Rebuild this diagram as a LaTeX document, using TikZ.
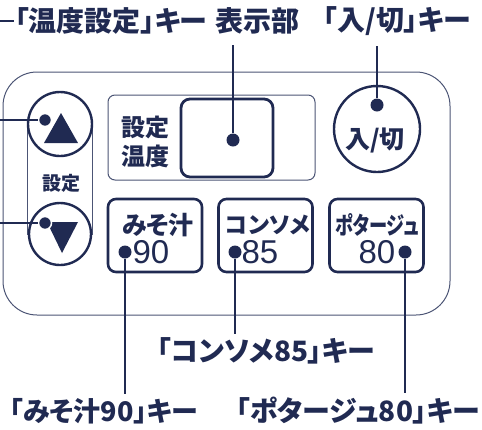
\documentclass[tikz,border=0pt]{standalone}
\usepackage{fontspec}
\usepackage{graphicx}
\newfontfamily\jp{Noto Sans CJK JP}[RawFeature=+palt]
\newfontfamily\num{Liberation Sans}
\usetikzlibrary{calc}
\definecolor{ink}{RGB}{32,42,82}
\def\fs#1{\fontsize{#1}{#1}\selectfont}

\begin{document}
\begin{tikzpicture}[x=1pt,y=-1pt,
	key/.style={draw=ink, line width=2.6pt, rounded corners=8pt, minimum width=94pt, minimum height=73pt},
	lbl/.style={text=ink, font=\jp\bfseries\fs{28}, inner sep=0pt},
	lead/.style={draw=ink, line width=2.8pt},
	pin/.style={circle, fill=ink, minimum size=13pt, inner sep=0pt},
	btn/.style={draw=ink, fill=white, line width=2.4pt}]
	%%%%% START %%%%%
	\useasboundingbox (0,0) rectangle (482,429);
	
	\draw[ink!80, line width=1pt, rounded corners=34pt] (3,72) rectangle (450,315);
	
	% temperature column
	\draw[ink!80, line width=1pt] (27,124) rectangle (92,234);
	\draw[btn] (60,124) circle (32);
	\draw[btn] (60,234) circle (31);
	\fill[ink] (61,113) -- (78,143) -- (44,143) -- cycle;
	\fill[ink] (47,222) -- (78,222) -- (62,253) -- cycle;
	\node[lbl, font=\jp\bfseries\fs{19}] (set) at (61,183) {設定};
	\node[pin, draw=white, line width=1.5pt] (pUp) at (45,120) {};
	\node[pin, draw=white, line width=1.5pt] (pDn) at (45,223) {};
	
	% display
	\draw[ink!80, line width=1pt, rounded corners=7pt] (108,95) rectangle (315,180);
	\draw[ink, line width=2.8pt, rounded corners=9pt] (181,99) rectangle (273,177);
	\node[lbl, align=center, font=\jp\bfseries\fs{24}] (dispTxt) at (145,142) {設定\\[5pt]温度};
	\node[pin] (pDisp) at (233,140) {};
	
	% power
	\draw[btn] (377,129) circle (43);
	\node[lbl, font=\jp\bfseries\fs{25}] (onoff) at (375,140) {入/切};
	\node[pin] (pPow) at (377,105) {};
	
	% menu keys
	\node[key] (kMiso) at (155,235.5) {};
	\node[key] (kCons) at (265.5,235.5) {};
	\node[key] (kPota) at (376.5,235.5) {};
	\node[lbl, font=\jp\bfseries\fs{25}] at (158,225) {みそ汁};
	\node[lbl, font=\jp\bfseries\fs{23}] at (268,225) {コンソメ};
	\node[lbl, font=\jp\bfseries\fs{24}] at (377,225) {\scalebox{0.76}[1]{ポタージュ}};
	\node[text=ink, font=\num\fs{33}, inner sep=0pt] at (151,252) {90};
	\node[text=ink, font=\num\fs{33}, inner sep=0pt] at (260,252) {85};
	\node[text=ink, font=\num\fs{33}, inner sep=0pt] at (377,252) {80};
	\node[pin] (p90) at (125,252) {};
	\node[pin] (p85) at (235,252) {};
	\node[pin] (p80) at (405,252) {};
	
	% labels
	\node[lbl] (lTemp) at (111,21) {「温度設定」キー};
	\node[lbl] (lDisp) at (257,21) {表示部};
	\node[lbl] (lPow) at (397,21) {「入/切」キー};
	\node[lbl] (l85) at (266,351) {「コンソメ85」キー};
	\node[lbl, font=\jp\bfseries\fs{27}] (l90) at (104,411) {「みそ汁90」キー};
	\node[lbl] (l80) at (358,411) {「ポタージュ80」キー};
	
	\coordinate (eT) at (0,21);
	\coordinate (eU) at (0,120);
	\coordinate (eD) at (0,223);
	\draw[lead] (eT) -- (lTemp.west);
	\draw[lead] (eU) -- (pUp);
	\draw[lead] (eD) -- (pDn);
	\draw[lead] (pDisp) -- ($(pDisp |- lDisp.south)+(0,10)$);
	\draw[lead] (pPow) -- ($(pPow |- lPow.south)+(0,10)$);
	\draw[lead] (p90) -- ($(p90 |- l90.north)+(0,-4)$);
	\draw[lead] (p85) -- ($(p85 |- l85.north)+(0,-4)$);
	\draw[lead] (p80) -- ($(p80 |- l80.north)+(0,-4)$);
	%%%%% END %%%%%
\end{tikzpicture}
\end{document}
